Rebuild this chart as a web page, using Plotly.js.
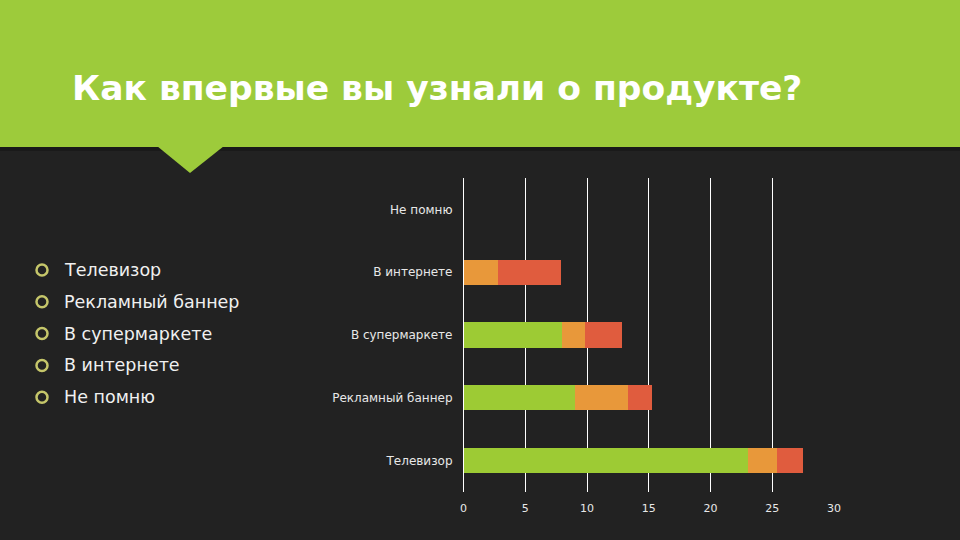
<!DOCTYPE html>
<html>
<head>
<meta charset="utf-8">
<script src="https://cdn.plot.ly/plotly-3.0.1.min.js"></script>
<style>html,body{margin:0;padding:0;background:#222222;}#chart{width:960px;height:540px;}</style>
</head>
<body>
<div id="chart"></div>
<script>
var titleText = 'Как впервые вы узнали о продукте?';
var categories = ['Телевизор', 'Рекламный баннер', 'В супермаркете', 'В интернете', 'Не помню'];
var seriesNames = ['Ряд 1', 'Ряд 2', 'Ряд 3'];
var series1 = [23, 9, 8, 0, 0];
var series2 = [2.4, 4.3, 1.8, 2.8, 0];
var series3 = [2.1, 2.0, 3.0, 5.1, 0];
var bulletItems = ['Телевизор', 'Рекламный баннер', 'В супермаркете', 'В интернете', 'Не помню'];
var xTicks = [0, 5, 10, 15, 20, 25, 30];

var W = 960, H = 540;
function px(x) { return x / W; }
function py(y) { return 1 - y / H; }

var colors = ['#9dcb34', '#e8983a', '#e05c3e'];
var vals = [series1, series2, series3];
var traces = vals.map(function (v, i) {
  return {
    type: 'bar', orientation: 'h', name: seriesNames[i],
    y: categories, x: v, width: 0.4,
    marker: {color: colors[i], line: {width: 0}},
    hoverinfo: 'x+y+name'
  };
});

var shapes = [
  {type: 'rect', xref: 'paper', yref: 'paper', x0: 0, x1: 1, y0: py(150), y1: 1,
   fillcolor: '#9dcb3b', line: {width: 0}, layer: 'below'},
  {type: 'rect', xref: 'paper', yref: 'paper', x0: 0, x1: 1, y0: py(151), y1: py(147),
   fillcolor: '#1a1a1a', line: {width: 0}, layer: 'below'},
  {type: 'path', xref: 'paper', yref: 'paper',
   path: 'M ' + px(157) + ' ' + py(146) + ' L ' + px(224) + ' ' + py(146) + ' L ' + px(190) + ' ' + py(173) + ' Z',
   fillcolor: '#9dcb3b', line: {width: 0}, layer: 'below'}
];

var annotations = [];
bulletItems.forEach(function (t, i) {
  var y = 270 + i * 31.8;
  shapes.push({type: 'circle', xref: 'paper', yref: 'paper',
    x0: px(36.5), x1: px(47.5), y0: py(y + 5.5), y1: py(y - 5.5),
    line: {color: '#c5c66a', width: 2.5}, fillcolor: 'rgba(0,0,0,0)'});
  annotations.push({xref: 'paper', yref: 'paper', x: px(62), y: py(y), xanchor: 'left', yanchor: 'middle',
    text: t, showarrow: false, font: {family: 'DejaVu Sans', size: 17.5, color: '#f0f0f0'}});
});

var layout = {
  width: W, height: H,
  paper_bgcolor: '#222222', plot_bgcolor: '#222222',
  margin: {l: 0, r: 0, t: 0, b: 0, autoexpand: false},
  showlegend: false,
  barmode: 'stack',
  title: {text: titleText, xref: 'container', yref: 'container', x: px(72), xanchor: 'left', y: py(88), yanchor: 'middle',
    font: {family: 'DejaVu Sans', size: 34.5, color: '#ffffff', weight: 'bold'}},
  xaxis: {domain: [px(463.5), px(834)], range: [0, 30], tickvals: xTicks, ticktext: xTicks.map(String),
    showgrid: true, gridcolor: '#ffffff', gridwidth: 1, zeroline: true, zerolinecolor: '#ffffff', zerolinewidth: 1,
    showline: false, ticks: '', ticklabelstandoff: 8, fixedrange: true,
    tickfont: {family: 'DejaVu Sans', size: 11, color: '#e8e8e8'}},
  yaxis: {domain: [py(492), py(178)], type: 'category', categoryorder: 'array', categoryarray: categories,
    range: [-0.5, 4.5], showgrid: false, zeroline: false, showline: false, ticks: '', ticklabelstandoff: 10,
    tickfont: {family: 'DejaVu Sans', size: 12, color: '#e8e8e8'}, fixedrange: true},
  shapes: shapes,
  annotations: annotations
};

Plotly.newPlot('chart', traces, layout, {staticPlot: true, displayModeBar: false});
</script>
</body>
</html>
